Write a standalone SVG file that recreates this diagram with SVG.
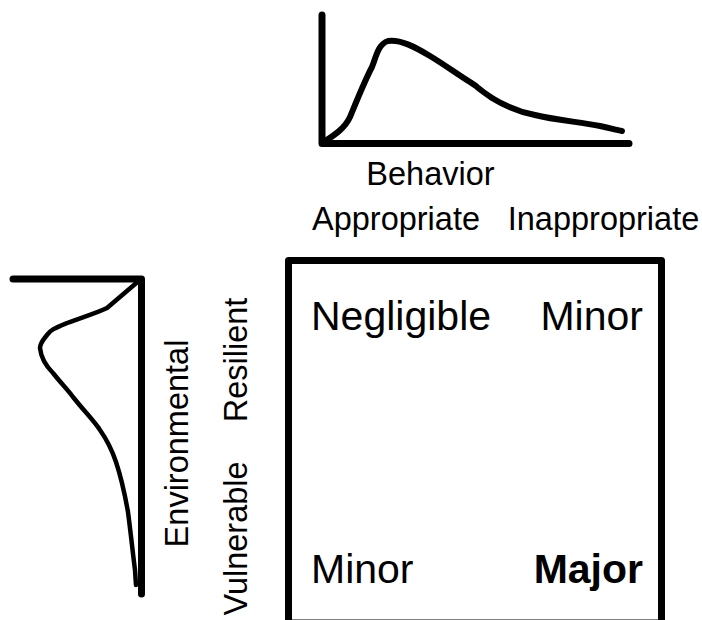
<svg xmlns="http://www.w3.org/2000/svg" width="702" height="620" viewBox="0 0 702 620">
<style>
  .axis { fill: none; stroke: #000; stroke-width: 7; stroke-linecap: round; stroke-linejoin: round; }
  .curve { fill: none; stroke: #000; stroke-linecap: round; stroke-linejoin: round; }
  .lbl { font-family: "Liberation Sans", Arial, sans-serif; font-size: 32.5px; fill: #000; }
  .cell { font-family: "Liberation Sans", Arial, sans-serif; font-size: 41px; fill: #000; }
</style>
<rect width="702" height="620" fill="#fff"/>
<g id="behavior-chart">
  <path class="axis" d="M322,15 L322,143.5 L629,143.5"/>
  <path class="curve" stroke-width="6" d="M322,143 C335,135 345,128 350,117 C355,105 365,80 372,67 C376,57 378,44 388,41 C400,39 415,47 430,56 C445,65 460,76 470,82 L476,86 C480,90 485,93 492,98 C505,106 520,112 535,115 C555,120 580,122 600,126 C610,128 616,130 622,131"/>
</g>
<g id="environment-chart">
  <path class="axis" d="M13,279 L141.5,279 L141.5,594"/>
  <path class="curve" stroke-width="4.5" d="M141,279 L107,308 C97,313 80,318 67,323 C55,328 50,330 47,335 C43,340 40,343 40,348 C41,358 45,365 53,373 C60,382 68,390 73,397 C85,412 95,422 100,430 C107,440 112,450 116,462 C121,477 125,495 128,512 C131,535 133,555 135,570 L136,585"/>
</g>
<g id="labels">
  <text class="lbl" x="430.5" y="185" text-anchor="middle">Behavior</text>
  <text class="lbl" x="396" y="230" text-anchor="middle">Appropriate</text>
  <text class="lbl" x="603.5" y="230" text-anchor="middle">Inappropriate</text>
  <text class="lbl" transform="translate(188,443.5) rotate(-90)" text-anchor="middle">Environmental</text>
  <text class="lbl" transform="translate(247,360) rotate(-90)" text-anchor="middle">Resilient</text>
  <text class="lbl" transform="translate(247,538.5) rotate(-90)" text-anchor="middle">Vulnerable</text>
</g>
<g id="matrix">
  <rect x="288.5" y="260.5" width="373" height="362.5" fill="none" stroke="#000" stroke-width="7" stroke-linejoin="round"/>
  <text class="cell" x="311" y="330">Negligible</text>
  <text class="cell" x="643" y="330" text-anchor="end">Minor</text>
  <text class="cell" x="311" y="583">Minor</text>
  <text class="cell" x="643" y="583" text-anchor="end" font-weight="bold">Major</text>
</g>
</svg>
